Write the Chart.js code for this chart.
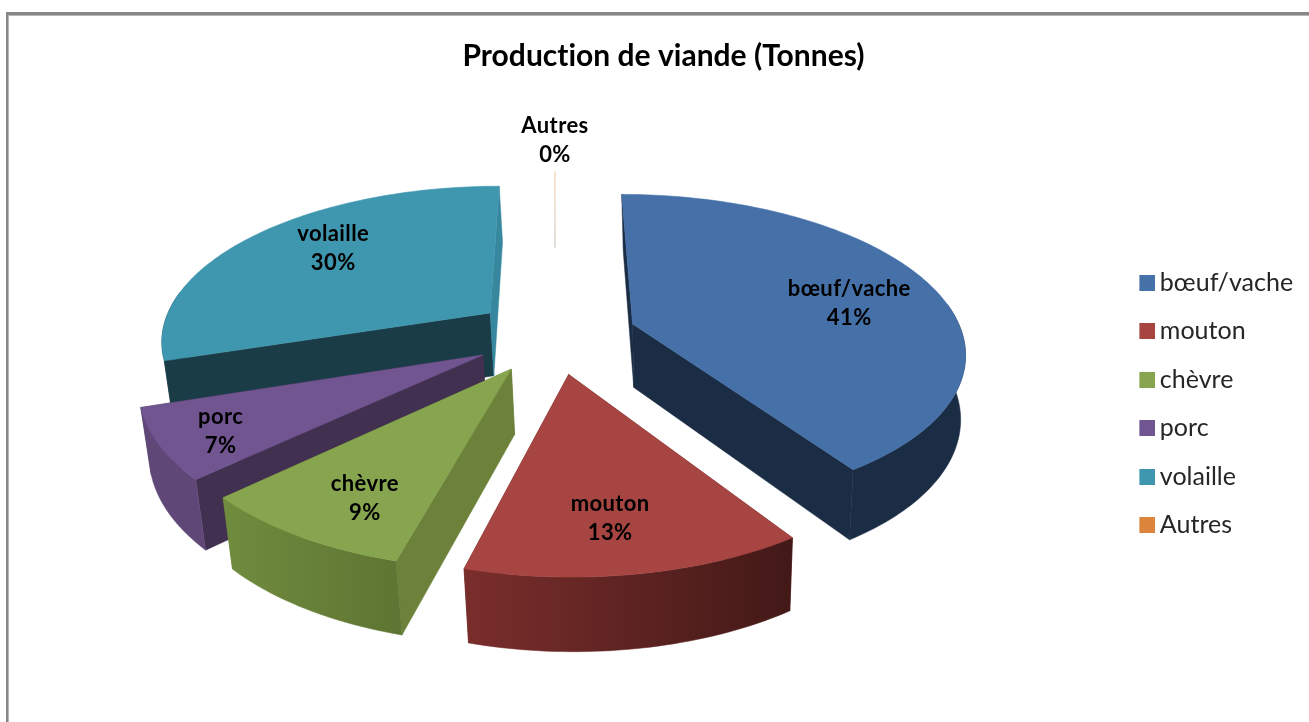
<!DOCTYPE html>
<html><head><meta charset="utf-8">
<style>html,body{margin:0;padding:0;background:#fff;overflow:hidden}canvas{display:block;filter:blur(0.45px)}</style>
<script src="https://cdn.jsdelivr.net/npm/chart.js@4"></script>
</head><body>
<div style="width:1309px;height:722px"><canvas id="c" width="1309" height="722"></canvas></div>
<script>
const categories = ['bœuf/vache','mouton','chèvre','porc','volaille','Autres'];
const values = [40.7,13.49,8.81,7,30,0];
const topColors = ['#4571a8','#a64542','#87a54e','#705590','#3f97af','#dd843c'];
const rimLeft = ['#1b2d45','#7a2e2c','#708c3e','#5f4877','#1a3c47','#dd843c'];
const rimRight = ['#1b2d45','#421917','#5f7533','#5f4877','#1a3c47','#dd843c'];
const startWall = ['#1b2d45','#5e2422','#6c823a','#413050','#1a3c47','#dd843c'];
const endWall = ['#1b2d45','#5e2422','#6c823a','#413050','#37879e','#dd843c'];
const paintOrder = [4,0,3,2,1];
const labelAngles = [78,172.3,208,238.3,311.7,0];
const labelRadii = [0.701,0.748,0.774,0.829,0.724,1.357];
const autresSpan = [0.376,1.036];

const view = {cx:555, cy:335, k:0.468, p:0.0005, R:330, explode:82, depth:65, q:0.018, shift:2.5};

function project(u,v,z){
  const W = 1 - view.p*v + view.q*z;
  return [view.cx + u/W + view.shift*z, view.cy + (view.k*v + view.depth*z)/W];
}
function apexOf(el){
  const m=(el.startAngle+el.endAngle)/2;
  return [view.explode*Math.cos(m), view.explode*Math.sin(m)];
}
function rimPoint(a0,a,r,z){
  return project(a0[0]+view.R*r*Math.cos(a), a0[1]+view.R*r*Math.sin(a), z);
}
function poly(ctx,pts,fill){
  ctx.beginPath();
  pts.forEach((p,i)=> i?ctx.lineTo(p[0],p[1]):ctx.moveTo(p[0],p[1]));
  ctx.closePath();
  ctx.fillStyle=fill; ctx.fill();
  ctx.strokeStyle=fill; ctx.lineWidth=0.5; ctx.stroke();
}
function arcAngles(s,e){
  const n=Math.max(2,Math.ceil((e-s)/0.02)), out=[];
  for(let i=0;i<=n;i++) out.push(s+(e-s)*i/n);
  return out;
}
function swatch(color){
  const s=document.createElement('canvas'); s.width=18; s.height=16;
  const c=s.getContext('2d'); c.fillStyle=color; c.fillRect(2,0,16,16);
  return s;
}
const pie3d = {
  id:'pie3d',
  beforeDraw(chart){
    const c=chart.ctx;
    c.letterSpacing='0.01px';
    c.fillStyle='#878787'; c.fillRect(6,12,1303,3); c.fillRect(6,12,2,710);
    c.fillStyle='#b5b5b5'; c.fillRect(8,15,1301,1); c.fillRect(8,15,1,707);
  },
  beforeDatasetsDraw(chart){
    const ctx=chart.ctx, els=chart.getDatasetMeta(0).data;
    paintOrder.forEach(i=>{
      const el=els[i], a0=apexOf(el), s=el.startAngle, e=el.endAngle;
      const A=project(a0[0],a0[1],0), B=project(a0[0],a0[1],1);
      const angles=arcAngles(s,e);
      const topRim=angles.map(a=>rimPoint(a0,a,1,0)), botRim=angles.map(a=>rimPoint(a0,a,1,1));
      poly(ctx,[A,topRim[0],botRim[0],B],startWall[i]);
      poly(ctx,[A,topRim[topRim.length-1],botRim[botRim.length-1],B],endWall[i]);
      const front=angles.filter(a=>Math.sin(a)>-0.15);
      if(front.length>1){
        const t=front.map(a=>rimPoint(a0,a,1,0)), b=front.map(a=>rimPoint(a0,a,1,1));
        const xs=t.map(p=>p[0]);
        const g=ctx.createLinearGradient(Math.min(...xs),0,Math.max(...xs),0);
        g.addColorStop(0,rimLeft[i]); g.addColorStop(1,rimRight[i]);
        poly(ctx,t.concat(b.slice().reverse()),g);
      }
      poly(ctx,[A].concat(topRim),topColors[i]);
    });
    const a=els[5], a0=apexOf(a);
    const p1=rimPoint(a0,a.startAngle,autresSpan[1],0), p2=rimPoint(a0,a.startAngle,autresSpan[0],0);
    const lg=ctx.createLinearGradient(0,p1[1],0,p2[1]);
    lg.addColorStop(0,'#f8dcc4'); lg.addColorStop(0.3,'#f0ddcd'); lg.addColorStop(1,'#dcd6d0');
    ctx.strokeStyle=lg; ctx.lineWidth=1.6;
    ctx.beginPath(); ctx.moveTo(p1[0],p1[1]); ctx.lineTo(p2[0],p2[1]); ctx.stroke();
    return false;
  },
  afterDraw(chart){
    const ctx=chart.ctx, els=chart.getDatasetMeta(0).data;
    const total=values.reduce((x,y)=>x+y,0);
    ctx.save();
    ctx.font='bold 22px Lato'; ctx.letterSpacing='0.4px'; ctx.fillStyle='#000'; ctx.textAlign='center'; ctx.textBaseline='middle';
    els.forEach((el,i)=>{
      const a0=apexOf(el), a=(labelAngles[i]-90)*Math.PI/180;
      const p=rimPoint(a0,a,labelRadii[i],0);
      ctx.fillText(categories[i],p[0],p[1]-13.5);
      ctx.fillText(Math.round(values[i]/total*100)+'%',p[0],p[1]+15.5);
    });
    ctx.restore();
  }
};
new Chart(document.getElementById('c'),{
  type:'pie',
  data:{labels:categories,datasets:[{data:values,backgroundColor:topColors,borderWidth:0}]},
  options:{
    responsive:false,animation:false,
    layout:{padding:{right:6,left:24}},
    plugins:{
      tooltip:{enabled:false},
      title:{display:true,text:'Production de viande (Tonnes)',color:'#000',
        font:{family:'Lato',size:30,weight:'bold'},padding:{top:38,bottom:12}},
      legend:{position:'right',fullSize:false,labels:{color:'#262626',font:{family:'Lato',size:25},
        usePointStyle:true,pointStyleWidth:2,boxHeight:16,padding:23.4,
        generateLabels(chart){
          const items=Chart.controllers.doughnut.overrides.plugins.legend.labels.generateLabels(chart);
          items.forEach((it,i)=>{it.pointStyle=swatch(topColors[i]);});
          return items;
        }}}
    }
  },
  plugins:[pie3d]
});
</script>
</body></html>
